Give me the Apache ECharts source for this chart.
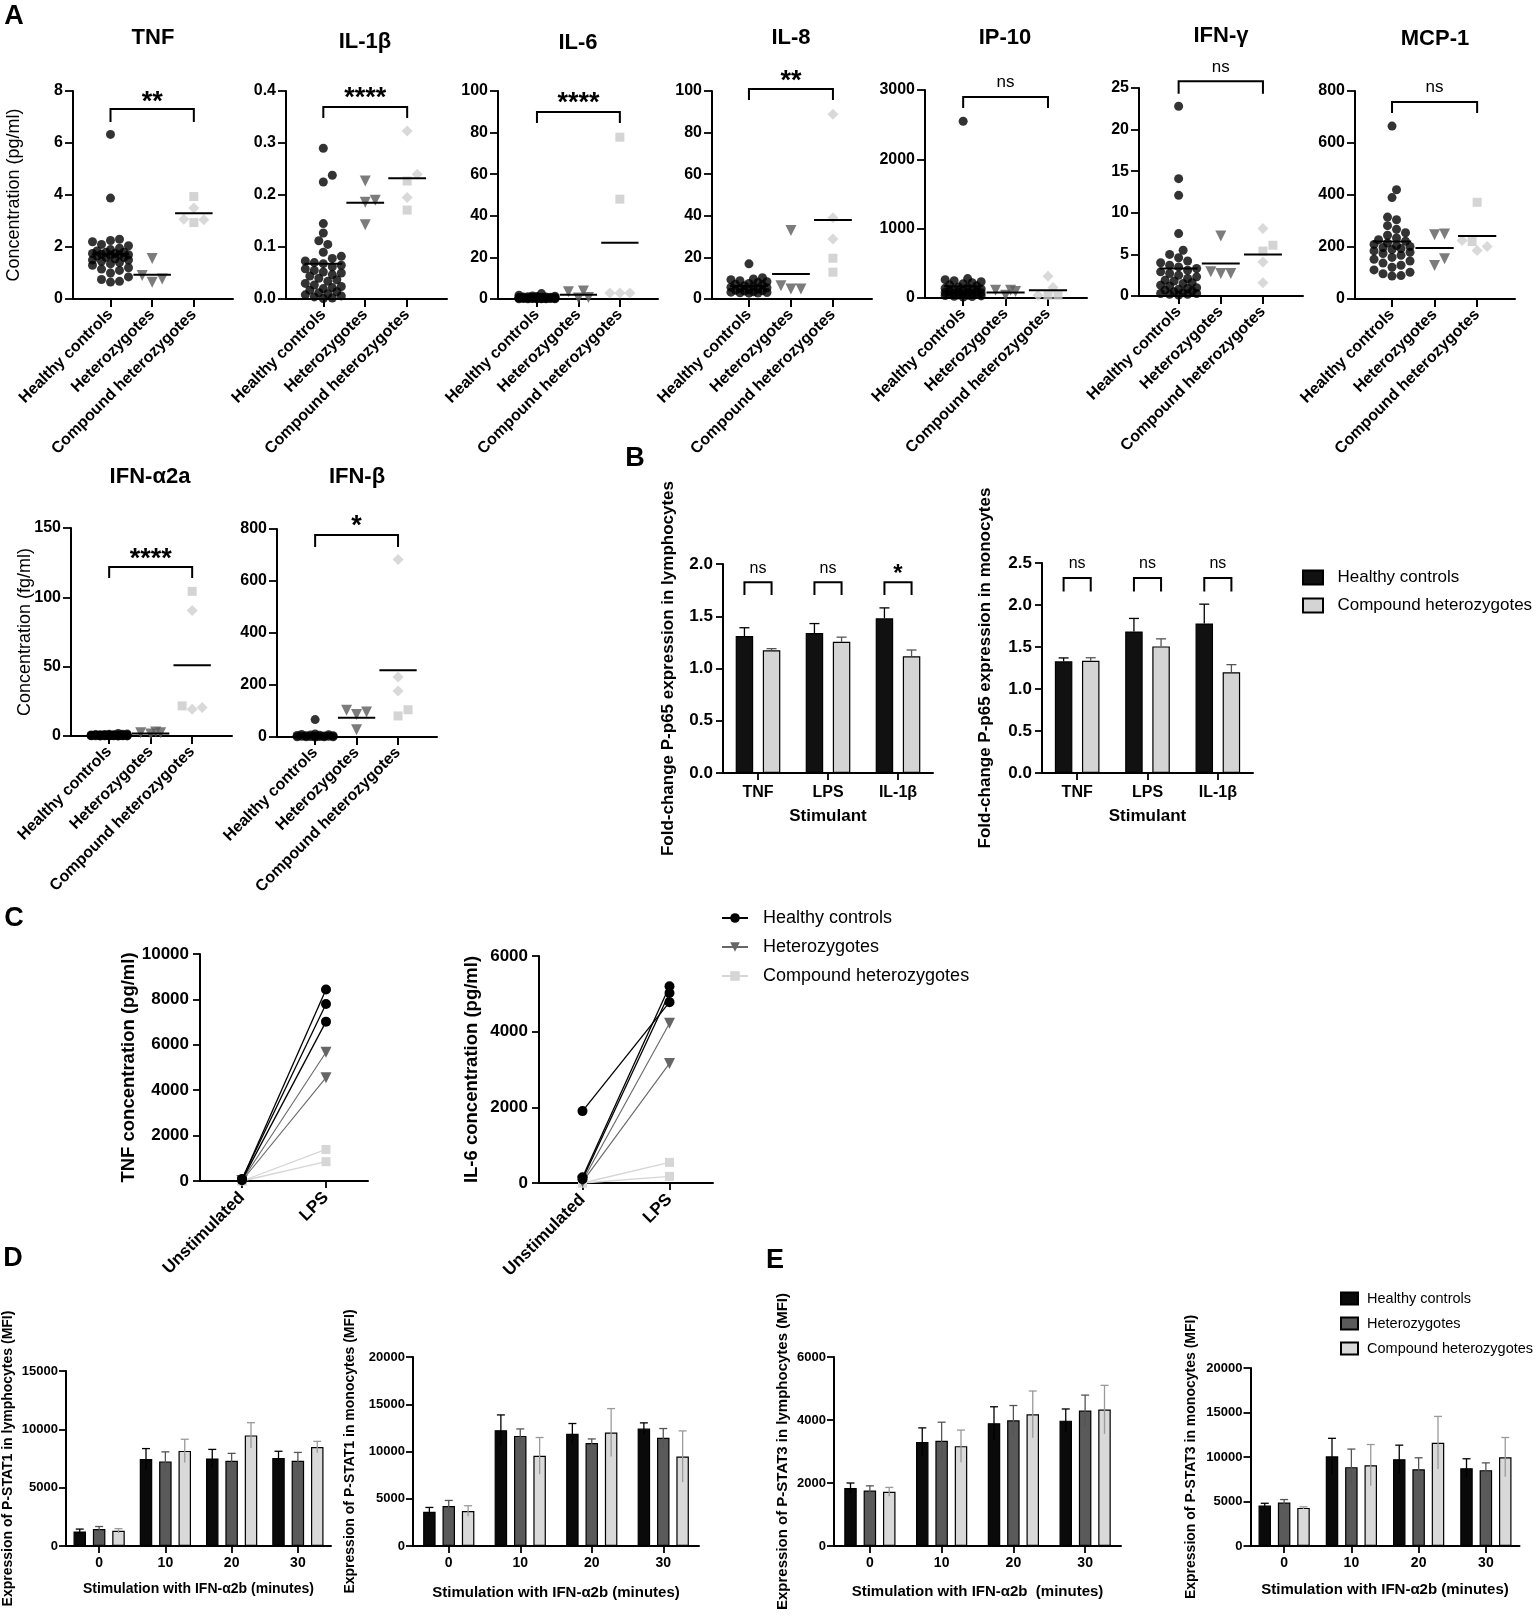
<!DOCTYPE html>
<html>
<head>
<meta charset="utf-8">
<script src="https://cdn.jsdelivr.net/npm/echarts@6/dist/echarts.min.js"></script>
<style>
html,body{margin:0;padding:0;background:#fff;}
#main{width:1537px;height:1616px;}
</style>
</head>
<body>
<div id="main"></div>
<script>
// ---------- data ----------
var groups = ['Healthy controls', 'Heterozygotes', 'Compound heterozygotes'];
var cytoNames = ['TNF', 'IL-1β', 'IL-6', 'IL-8', 'IP-10', 'IFN-γ', 'MCP-1', 'IFN-α2a', 'IFN-β'];
var cytoMax  = [8, 0.4, 100, 100, 3000, 25, 800, 150, 800];
var cytoStep = [2, 0.1, 20, 20, 1000, 5, 200, 50, 200];

// panel A, one set of arrays per cytokine (HC = healthy controls, Het = heterozygotes,
// Sq / Di = compound heterozygotes drawn as squares / diamonds, Mean = horizontal lines)
var tnfHC = [6.33, 3.88, 2.3, 2.25, 2.2, 2.1, 2.05, 1.95, 1.9, 1.85, 1.8, 1.8, 1.75, 1.75, 1.72, 1.7, 1.7, 1.68, 1.65, 1.6, 1.6, 1.55, 1.5, 1.5, 1.45, 1.4, 1.35, 1.3, 1.2, 1.15, 1.1, 1.0, 0.85, 0.75, 0.68, 0.65];
var tnfHet = [1.56, 0.9, 0.77, 0.64];
var tnfSq = [2.94, 3.94];
var tnfDi = [3.5, 3.07, 3.05];
var tnfMean = [1.72, 0.93, 3.3];

var il1bHC = [0.29, 0.238, 0.225, 0.145, 0.127, 0.112, 0.105, 0.09, 0.082, 0.078, 0.073, 0.07, 0.068, 0.065, 0.062, 0.058, 0.055, 0.052, 0.05, 0.047, 0.044, 0.04, 0.037, 0.034, 0.03, 0.027, 0.024, 0.022, 0.02, 0.017, 0.014, 0.012, 0.01, 0.008, 0.006, 0.004, 0.002, 0.001];
var il1bHet = [0.227, 0.19, 0.186, 0.143];
var il1bSq = [0.227, 0.171];
var il1bDi = [0.323, 0.24, 0.195];
var il1bMean = [0.068, 0.185, 0.232];

var il6HC = [2.6, 1.8, 1.5, 1.3, 1.2, 1.1, 1.0, 1.0, 0.9, 0.9, 0.8, 0.8, 0.7, 0.7, 0.6, 0.6, 0.5, 0.5, 0.5, 0.4, 0.4, 0.4, 0.3, 0.3, 0.3, 0.3, 0.2, 0.2, 0.2, 0.2, 0.1, 0.1, 0.1, 0.1, 0.1, 0.1];
var il6Het = [0.5, 3.8, 0.7, 3.5];
var il6Sq = [77.8, 48];
var il6Di = [2.9, 2.9, 2.9];
var il6Mean = [0.7, 2.1, 27.1];

var il8HC = [16.9, 10.2, 9.6, 9.3, 8.8, 8.3, 7.9, 7.5, 7.1, 6.8, 6.4, 6.0, 5.7, 5.4, 5.1, 4.8, 4.5, 4.2, 4.0, 3.8, 3.5, 3.3, 3.1, 3.0, 2.9, 2.8];
var il8Het = [4.8, 32.9, 6.4, 4.8];
var il8Sq = [19.6, 12.9];
var il8Di = [88.8, 39.1, 28.8];
var il8Mean = [6.2, 12.0, 38.0];

var ip10HC = [2550, 280, 265, 250, 235, 220, 205, 190, 175, 160, 150, 140, 130, 120, 115, 110, 100, 95, 90, 85, 80, 75, 70, 65, 60, 55, 50, 45, 40, 35, 30, 25, 20, 15];
var ip10Het = [40, 110, 95, 110];
var ip10Sq = [40, 40];
var ip10Di = [40, 150, 313];
var ip10Mean = [170, 80, 110];

var ifngHC = [22.8, 14.1, 12.1, 7.5, 5.5, 5.0, 4.6, 4.2, 4.0, 3.7, 3.5, 3.3, 3.1, 2.9, 2.7, 2.5, 2.3, 2.1, 1.9, 1.8, 1.6, 1.5, 1.3, 1.2, 1.0, 0.9, 0.8, 0.7, 0.6, 0.5, 0.4, 0.3, 0.3, 0.2, 0.2, 0.1];
var ifngHet = [2.7, 7.2, 2.9, 2.7];
var ifngSq = [6.1, 5.4];
var ifngDi = [8.1, 4.1, 1.6];
var ifngMean = [3.3, 3.9, 5.0];

var mcp1HC = [665, 420, 390, 315, 305, 282, 268, 255, 245, 235, 228, 222, 215, 210, 206, 202, 198, 194, 190, 185, 180, 175, 168, 160, 153, 146, 138, 130, 122, 112, 103, 97, 90, 88];
var mcp1Het = [247, 250, 129, 155];
var mcp1Sq = [372, 221];
var mcp1Di = [187, 225, 202];
var mcp1Mean = [221, 196, 242];

var ifnaHC = [1.8, 1.5, 1.3, 1.2, 1.1, 1.0, 0.9, 0.9, 0.8, 0.8, 0.7, 0.7, 0.6, 0.6, 0.5, 0.5, 0.5, 0.4, 0.4, 0.4, 0.3, 0.3, 0.3, 0.3, 0.2, 0.2, 0.2, 0.2, 0.1, 0.1, 0.1, 0.1, 0.05, 0.05, 0.05, 0.05];
var ifnaHet = [1.4, 2.9, 2.4, 2.4];
var ifnaSq = [104.3, 21.7];
var ifnaDi = [90.5, 19.3, 20.5];
var ifnaMean = [0.5, 1.8, 51];

var ifnbHC = [67, 12, 10, 9, 8, 7, 6, 5, 5, 4, 4, 3, 3, 2, 2, 1, 1, 0.5, 0.5, 0.2];
var ifnbHet = [103, 87, 96, 28];
var ifnbSq = [81, 105];
var ifnbDi = [683, 231, 177];
var ifnbMean = [8, 74, 257];

var sigLabels = ['**', '****', '****', '**', 'ns', 'ns', 'ns', '****', '*'];
var sigTop   = [7.31, 0.369, 89.9, 101, 2899, 25.8, 758, 121.9, 777];
var sigDrop  = [6.81, 0.348, 84.6, 95.7, 2740, 24.3, 715, 113.9, 731];
var sigTextY = [7.81, 0.398, 97.1, 107.7, 3115, 27.5, 815, 132, 835];

// panel B
var stimulants = ['TNF', 'LPS', 'IL-1β'];
var lymHC = [1.31, 1.34, 1.48],   lymHCsem = [0.08, 0.09, 0.10];
var lymCH = [1.175, 1.255, 1.117], lymCHsem = [0.015, 0.045, 0.06];
var monHC = [1.33, 1.685, 1.78],  monHCsem = [0.04, 0.155, 0.23];
var monCH = [1.337, 1.507, 1.2],  monCHsem = [0.035, 0.09, 0.09];
var lymSig = ['ns', 'ns', '*'], monSig = ['ns', 'ns', 'ns'];

// panel C, one [unstimulated, LPS] pair per subject
var cCats = ['Unstimulated', 'LPS'];
var tnfHCpairs  = [[60, 8440], [90, 7800], [40, 7020]];
var tnfHetPairs = [[20, 5670], [10, 4550]];
var tnfCHpairs  = [[0, 1390], [0, 850]];
var il6HCpairs  = [[1900, 4780], [150, 5200], [100, 5020]];
var il6HetPairs = [[50, 4220], [30, 3160]];
var il6CHpairs  = [[0, 545], [0, 175]];

// panels D and E
var minutes = ['0', '10', '20', '30'];
var stat1LymHC  = [1250, 7450, 7500, 7550],  stat1LymHCsem  = [200, 900, 780, 570];
var stat1LymHet = [1450, 7250, 7300, 7300],  stat1LymHetSem = [220, 820, 640, 720];
var stat1LymCH  = [1300, 8150, 9480, 8480],  stat1LymCHsem  = [190, 1000, 1090, 490];
var stat1MonHC  = [3630, 12250, 11870, 12430], stat1MonHCsem  = [450, 1620, 1090, 600];
var stat1MonHet = [4220, 11650, 10900, 11450], stat1MonHetSem = [600, 740, 430, 980];
var stat1MonCH  = [3700, 9540, 12000, 9470],   stat1MonCHsem  = [560, 1940, 2540, 2710];
var stat3LymHC  = [1840, 3300, 3900, 3980], stat3LymHCsem  = [160, 450, 520, 370];
var stat3LymHet = [1760, 3340, 3990, 4300], stat3LymHetSem = [150, 590, 470, 490];
var stat3LymCH  = [1720, 3170, 4180, 4330], stat3LymCHsem  = [140, 510, 740, 770];
var stat3MonHC  = [4550, 10080, 9750, 8750], stat3MonHCsem  = [250, 2020, 1580, 1050];
var stat3MonHet = [4880, 8860, 8630, 8520],  stat3MonHetSem = [340, 2030, 1280, 820];
var stat3MonCH  = [4280, 9080, 11600, 9980], stat3MonCHsem  = [120, 2320, 2960, 2210];

// ---------- layout ----------
var FONT = '"Liberation Sans", Arial, Helvetica, sans-serif';
// left, top, width, height, xmin, xmax
var aLayout = [
  [73, 91, 160, 208, -0.9, 2.94],
  [286, 91, 161, 208, -0.89, 2.95],
  [498, 91, 160, 208, -0.94, 2.92],
  [712, 91, 160, 208, -0.88, 2.93],
  [925, 90, 162, 208, -0.9, 2.92],
  [1139, 88, 164, 208, -0.94, 2.95],
  [1355, 91, 160, 208, -0.87, 2.89],
  [71, 528, 161, 208, -0.92, 2.96],
  [277, 529, 160, 208, -0.92, 2.94]
];
var aTitlePos = [[153, 38], [365, 42], [578, 43], [791, 38], [1005, 38], [1221, 36], [1435, 39], [150, 477], [357, 477]];

var hcAll   = [tnfHC, il1bHC, il6HC, il8HC, ip10HC, ifngHC, mcp1HC, ifnaHC, ifnbHC];
var hetAll  = [tnfHet, il1bHet, il6Het, il8Het, ip10Het, ifngHet, mcp1Het, ifnaHet, ifnbHet];
var sqAll   = [tnfSq, il1bSq, il6Sq, il8Sq, ip10Sq, ifngSq, mcp1Sq, ifnaSq, ifnbSq];
var diAll   = [tnfDi, il1bDi, il6Di, il8Di, ip10Di, ifngDi, mcp1Di, ifnaDi, ifnbDi];
var meanAll = [tnfMean, il1bMean, il6Mean, il8Mean, ip10Mean, ifngMean, mcp1Mean, ifnaMean, ifnbMean];

var option = {
  animation: false,
  backgroundColor: '#fff',
  textStyle: { fontFamily: FONT, color: '#000' },
  grid: [], xAxis: [], yAxis: [], series: [], legend: [], graphic: []
};

var axLine = { show: true, onZero: false, lineStyle: { color: '#000', width: 2 } };

function addGrid(l, t, w, h) {
  option.grid.push({ left: l, top: t, width: w, height: h, containLabel: false, outerBoundsMode: 'none' });
  return option.grid.length - 1;
}

function yAx(gi, max, step, fs, name, gap, nameFs, nameBold, dec, margin) {
  return {
    gridIndex: gi, type: 'value', min: 0, max: max, interval: step,
    axisLine: axLine,
    axisTick: { show: true, length: 7, lineStyle: { color: '#000', width: 1.8 } },
    axisLabel: { color: '#000', fontWeight: 'bold', fontSize: fs, margin: margin || 9, fontFamily: FONT,
      formatter: function (v) { return dec ? v.toFixed(dec) : String(v); } },
    splitLine: { show: false },
    name: name || '', nameLocation: 'middle', nameGap: gap || 0, nameMoveOverlap: false,
    nameTextStyle: { color: '#000', fontSize: nameFs || 14, fontWeight: nameBold ? 'bold' : 'normal', fontFamily: FONT }
  };
}

function catAx(gi, cats, fs, name, gap, nameFs, rotate, margin) {
  return {
    gridIndex: gi, type: 'category', data: cats, boundaryGap: true,
    axisLine: axLine,
    axisTick: { show: true, alignWithLabel: true, length: 7, lineStyle: { color: '#000', width: 1.8 } },
    axisLabel: { color: '#000', fontWeight: 'bold', fontSize: fs, rotate: rotate || 0, margin: margin || 10, interval: 0, fontFamily: FONT },
    splitLine: { show: false },
    name: name || '', nameLocation: 'middle', nameGap: gap || 0, nameMoveOverlap: false,
    nameTextStyle: { color: '#000', fontSize: nameFs || 14, fontWeight: 'bold', fontFamily: FONT }
  };
}

// simple beeswarm: spread points sideways (pixels) so markers do not sit on top of each other
function swarm(vals, pxY, pxX, r, maxPx) {
  var order = vals.map(function (v, i) { return i; }).sort(function (a, b) { return vals[a] - vals[b]; });
  var cands = [0];
  for (var k = 1; k * r <= maxPx; k++) { cands.push(k * r); cands.push(-k * r); }
  var placed = [], off = [];
  order.forEach(function (idx) {
    var y = vals[idx] * pxY, pick = null, bestC = 0, bestD = -1;
    for (var c = 0; c < cands.length; c++) {
      var md = Infinity;
      placed.forEach(function (p) { md = Math.min(md, Math.hypot(cands[c] - p[0], y - p[1])); });
      if (md >= 2 * r * 0.92) { pick = cands[c]; break; }
      if (md > bestD) { bestD = md; bestC = cands[c]; }
    }
    if (pick === null) pick = bestC;
    off[idx] = pick / pxX;
    placed.push([pick, y]);
  });
  return off;
}

// ---------- panel A ----------
cytoNames.forEach(function (nm, i) {
  var L = aLayout[i];
  var gi = addGrid(L[0], L[1], L[2], L[3]);
  var pxY = L[3] / cytoMax[i], pxX = L[2] / (L[5] - L[4]);
  option.xAxis.push({
    gridIndex: gi, type: 'value', min: L[4], max: L[5],
    axisLine: axLine,
    axisTick: { show: true, customValues: [0, 1, 2], length: 8, lineStyle: { color: '#000', width: 2 } },
    axisLabel: { customValues: [0, 1, 2], rotate: 45, margin: 13, color: '#000', fontWeight: 'bold', fontSize: 16, fontFamily: FONT,
      formatter: function (v) { return groups[Math.round(v)]; } },
    splitLine: { show: false }
  });
  var yname = i === 0 ? 'Concentration (pg/ml)' : (i === 7 ? 'Concentration (fg/ml)' : '');
  var ygap = i === 0 ? 50 : 37;
  var ya = yAx(gi, cytoMax[i], cytoStep[i], 16, yname, ygap, 18, false, i === 1 ? 1 : 0, 10);
  ya.axisTick.length = 8;
  option.yAxis.push(ya);

  var hc = hcAll[i], het = hetAll[i], comp = sqAll[i].concat(diAll[i]);
  var oHC = swarm(hc, pxY, pxX, 4.5, 19), oHet = swarm(het, pxY, pxX, 5, 17), oC = swarm(comp, pxY, pxX, 5, 17);
  var nSq = sqAll[i].length;
  option.series.push({ type: 'scatter', xAxisIndex: gi, yAxisIndex: gi, silent: true, symbol: 'circle', symbolSize: 9,
    itemStyle: { color: '#000' }, data: hc.map(function (v, k) { return [oHC[k], v]; }) });
  option.series.push({ type: 'scatter', xAxisIndex: gi, yAxisIndex: gi, silent: true, symbol: 'triangle', symbolRotate: 180, symbolSize: 11,
    itemStyle: { color: '#5b5b5b' }, data: het.map(function (v, k) { return [1 + oHet[k], v]; }) });
  option.series.push({ type: 'scatter', xAxisIndex: gi, yAxisIndex: gi, silent: true, symbol: 'rect', symbolSize: 9,
    itemStyle: { color: '#c9c9c9' }, data: sqAll[i].map(function (v, k) { return [2 + oC[k], v]; }) });
  option.series.push({ type: 'scatter', xAxisIndex: gi, yAxisIndex: gi, silent: true, symbol: 'diamond', symbolSize: 11,
    itemStyle: { color: '#d0d0d0' }, data: diAll[i].map(function (v, k) { return [2 + oC[nSq + k], v]; }) });
  // mean lines
  option.series.push({ type: 'custom', xAxisIndex: gi, yAxisIndex: gi, silent: true, clip: false, z: 5,
    data: meanAll[i].map(function (m, g) { return [g, m]; }),
    renderItem: function (p, api) {
      var a = api.coord([api.value(0) - 0.45, api.value(1)]), b = api.coord([api.value(0) + 0.45, api.value(1)]);
      return { type: 'line', shape: { x1: a[0], y1: a[1], x2: b[0], y2: b[1] }, style: { stroke: '#000', lineWidth: 2 } };
    } });
  // significance bracket
  option.series.push({ type: 'custom', xAxisIndex: gi, yAxisIndex: gi, silent: true, clip: false, z: 6,
    data: [[0, 2, sigTop[i], sigDrop[i], sigTextY[i]]],
    renderItem: function (p, api) {
      var a = api.coord([api.value(0), api.value(2)]), b = api.coord([api.value(1), api.value(2)]);
      var d = api.coord([0, api.value(3)])[1], t = api.coord([1, api.value(4)]);
      var lab = sigLabels[i], star = lab.indexOf('*') >= 0;
      return { type: 'group', children: [
        { type: 'polyline', shape: { points: [[a[0], d], [a[0], a[1]], [b[0], b[1]], [b[0], d]] }, style: { stroke: '#000', lineWidth: 2, fill: 'none' } },
        { type: 'text', x: t[0], y: t[1] + (star ? 7 : 0), style: { text: lab, fill: '#000', align: 'center', verticalAlign: 'middle',
          font: (star ? 'bold 27px ' : '17px ') + FONT } }
      ] };
    } });
  option.graphic.push({ type: 'text', x: aTitlePos[i][0], y: aTitlePos[i][1], silent: true,
    style: { text: nm, fill: '#000', font: 'bold 22px ' + FONT, align: 'center', verticalAlign: 'middle' } });
});

// ---------- helpers for bar panels ----------
function errSeries(gi, means, sems, dx, color, both, cap) {
  return { type: 'custom', xAxisIndex: gi, yAxisIndex: gi, silent: true, clip: false, z: 5,
    data: means.map(function (m, k) { return [k, m, sems[k]]; }),
    renderItem: function (p, api) {
      var k = api.value(0), m = api.value(1), s = api.value(2);
      var top = api.coord([k, m + s]), base = api.coord([k, both ? m - s : m]);
      var x = top[0] + dx;
      return { type: 'group', children: [
        { type: 'line', shape: { x1: x, y1: base[1], x2: x, y2: top[1] }, style: { stroke: color, lineWidth: 1.3 } },
        { type: 'line', shape: { x1: x - cap / 2, y1: top[1], x2: x + cap / 2, y2: top[1] }, style: { stroke: color, lineWidth: 1.3 } }
      ] };
    } };
}

function barSeries(gi, name, vals, color, w) {
  return { type: 'bar', name: name, xAxisIndex: gi, yAxisIndex: gi, silent: true, barWidth: w, barGap: '55%',
    itemStyle: { color: color, borderColor: '#000', borderWidth: 1.2 }, data: vals };
}

// ---------- panel B ----------
var SB = ' ';
var bW = 17.5, bHalf = (bW + bW * 0.55) / 2;
[[723, 564, 210, 209, 2, lymHC, lymHCsem, lymCH, lymCHsem, lymSig, 'Fold-change P-p65 expression in lymphocytes', 46, [1.825, 1.703, 1.96]],
 [1042, 563, 211, 210, 2.5, monHC, monHCsem, monCH, monCHsem, monSig, 'Fold-change P-p65 expression in monocytes', 48, [2.32, 2.16, 2.49]]
].forEach(function (c) {
  var gi = addGrid(c[0], c[1], c[2], c[3]);
  option.xAxis.push(catAx(gi, stimulants, 16, 'Stimulant', 35, 17, 0, 12));
  option.yAxis.push(yAx(gi, c[4], 0.5, 17, c[10], c[11], 17, true, 1, 10));
  option.series.push(barSeries(gi, 'Healthy controls' + SB, c[5], '#111', bW));
  option.series.push(barSeries(gi, 'Compound heterozygotes' + SB, c[7], '#d4d4d4', bW));
  option.series.push(errSeries(gi, c[5], c[6], -bHalf, '#000', false, 10));
  option.series.push(errSeries(gi, c[7], c[8], bHalf, '#555', false, 10));
  var sig = c[9], pos = c[12];
  option.series.push({ type: 'custom', xAxisIndex: gi, yAxisIndex: gi, silent: true, clip: false, z: 6,
    data: sig.map(function (s, k) { return [k, pos[0], pos[1], pos[2]]; }),
    renderItem: function (p, api) {
      var k = api.value(0), t = api.coord([k, api.value(1)]), d = api.coord([k, api.value(2)])[1], tx = api.coord([k, api.value(3)]);
      var lab = sig[p.dataIndex], star = lab.indexOf('*') >= 0;
      return { type: 'group', children: [
        { type: 'polyline', shape: { points: [[t[0] - bHalf, d], [t[0] - bHalf, t[1]], [t[0] + bHalf, t[1]], [t[0] + bHalf, d]] }, style: { stroke: '#000', lineWidth: 2, fill: 'none' } },
        { type: 'text', x: tx[0], y: tx[1] + (star ? 6 : 0), style: { text: lab, fill: '#000', align: 'center', verticalAlign: 'middle',
          font: (star ? 'bold 24px ' : '16px ') + FONT } }
      ] };
    } });
});
option.legend.push({ data: ['Healthy controls' + SB, 'Compound heterozygotes' + SB], left: 1297, top: 564, orient: 'vertical',
  icon: 'rect', itemWidth: 20, itemHeight: 14, itemGap: 11, selectedMode: false,
  textStyle: { color: '#000', fontSize: 17, fontFamily: FONT }, formatter: function (n) { return '  ' + n.trim(); } });

// ---------- panel C ----------
var SC = '  ';
[[200, 954, 168, 227, 10000, tnfHCpairs, tnfHetPairs, tnfCHpairs, 'TNF concentration (pg/ml)', 62],
 [539, 956, 174, 227, 6000, il6HCpairs, il6HetPairs, il6CHpairs, 'IL-6 concentration (pg/ml)', 58]
].forEach(function (c) {
  var gi = addGrid(c[0], c[1], c[2], c[3]);
  option.xAxis.push(catAx(gi, cCats, 17, '', 0, 16, 45, 14));
  option.yAxis.push(yAx(gi, c[4], 2000, 17, c[8], c[9], 18.5, true, 0, 11));
  c[7].forEach(function (pr) {
    option.series.push({ type: 'line', name: 'Compound heterozygotes' + SC, xAxisIndex: gi, yAxisIndex: gi, silent: true, data: pr,
      symbol: 'rect', symbolSize: 9, itemStyle: { color: '#d6d6d6' }, lineStyle: { color: '#d6d6d6', width: 1.3 } });
  });
  c[6].forEach(function (pr) {
    option.series.push({ type: 'line', name: 'Heterozygotes' + SC, xAxisIndex: gi, yAxisIndex: gi, silent: true, data: pr,
      symbol: 'triangle', symbolRotate: 180, symbolSize: 11, itemStyle: { color: '#666' }, lineStyle: { color: '#666', width: 1.1 } });
  });
  c[5].forEach(function (pr) {
    option.series.push({ type: 'line', name: 'Healthy controls' + SC, xAxisIndex: gi, yAxisIndex: gi, silent: true, data: pr,
      symbol: 'circle', symbolSize: 10, itemStyle: { color: '#000' }, lineStyle: { color: '#000', width: 1.3 } });
  });
});
option.legend.push({ data: ['Healthy controls' + SC, 'Heterozygotes' + SC, 'Compound heterozygotes' + SC], left: 716, top: 904, orient: 'vertical',
  itemWidth: 26, itemHeight: 12, itemGap: 11, selectedMode: false,
  textStyle: { color: '#000', fontSize: 18, fontFamily: FONT }, formatter: function (n) { return '  ' + n.trim(); } });

// ---------- panels D and E ----------
var SE = '   ';
var dW = 12.5, dStep = dW * 1.55;
[[66, 1371, 265, 175, 15000, [stat1LymHC, stat1LymHet, stat1LymCH], [stat1LymHCsem, stat1LymHetSem, stat1LymCHsem], 'Expression of P-STAT1 in lymphocytes (MFI)', 51, 36, 14],
 [413, 1357, 286, 189, 20000, [stat1MonHC, stat1MonHet, stat1MonCH], [stat1MonHCsem, stat1MonHetSem, stat1MonCHsem], 'Expression of P-STAT1 in monocytes (MFI)', 56, 39, 15],
 [834, 1357, 287, 189, 6000, [stat3LymHC, stat3LymHet, stat3LymCH], [stat3LymHCsem, stat3LymHetSem, stat3LymCHsem], 'Expression of P-STAT3 in lymphocytes (MFI)', 44, 38, 15],
 [1250.5, 1368, 269, 178, 20000, [stat3MonHC, stat3MonHet, stat3MonCH], [stat3MonHCsem, stat3MonHetSem, stat3MonCHsem], 'Expression of P-STAT3 in monocytes (MFI)', 52, 36, 15]
].forEach(function (c) {
  var gi = addGrid(c[0], c[1], c[2], c[3]);
  var xname = c[0] === 834 ? 'Stimulation with IFN-α2b  (minutes)' : 'Stimulation with IFN-α2b (minutes)';
  option.xAxis.push(catAx(gi, minutes, 14, xname, c[9], c[10], 0, 10));
  option.yAxis.push(yAx(gi, c[4], c[4] === 6000 ? 2000 : 5000, 13, c[7], c[8], c[0] === 834 ? 15 : 14, true, 0, 8));
  var cols = ['#0a0a0a', '#5a5a5a', '#d9d9d9'], errCols = ['#000', '#555', '#9a9a9a'];
  var nms = ['Healthy controls', 'Heterozygotes', 'Compound heterozygotes'];
  for (var g = 0; g < 3; g++) option.series.push(barSeries(gi, nms[g] + SE, c[5][g], cols[g], dW));
  for (var h = 0; h < 3; h++) option.series.push(errSeries(gi, c[5][h], c[6][h], (h - 1) * dStep, errCols[h], true, 8));
});
option.legend.push({ data: ['Healthy controls' + SE, 'Heterozygotes' + SE, 'Compound heterozygotes' + SE], left: 1335, top: 1286, orient: 'vertical',
  icon: 'rect', itemWidth: 17, itemHeight: 12, itemGap: 10, selectedMode: false,
  textStyle: { color: '#000', fontSize: 14.5, fontFamily: FONT }, formatter: function (n) { return ' ' + n.trim(); } });

// ---------- panel letters ----------
[['A', 14, 17], ['B', 635, 459], ['C', 14, 919], ['D', 13, 1259], ['E', 775, 1261]].forEach(function (t) {
  option.graphic.push({ type: 'text', x: t[1], y: t[2], silent: true,
    style: { text: t[0], fill: '#000', font: 'bold 27px ' + FONT, align: 'center', verticalAlign: 'middle' } });
});

var chart = echarts.init(document.getElementById('main'), null, { renderer: 'canvas' });
chart.setOption(option);
</script>
</body>
</html>
